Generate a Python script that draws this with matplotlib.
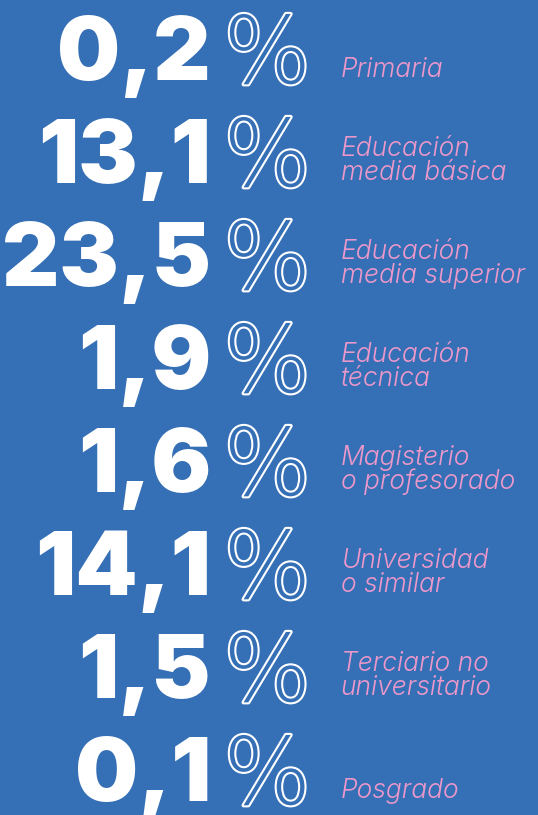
import matplotlib
matplotlib.use("Agg")
import matplotlib.pyplot as plt
import matplotlib.patheffects as pe

# Data
values = [0.2, 13.1, 23.5, 1.9, 1.6, 14.1, 1.5, 0.1]
labels = [
    ["Primaria"],
    ["Educación", "media básica"],
    ["Educación", "media superior"],
    ["Educación", "técnica"],
    ["Magisterio", "o profesorado"],
    ["Universidad", "o similar"],
    ["Terciario no", "universitario"],
    ["Posgrado"],
]

BG = "#356FB5"
PINK = "#EC98CA"
W, H = 538, 815

fig = plt.figure(figsize=(W / 100, H / 100), dpi=100)
fig.patch.set_facecolor(BG)
ax = fig.add_axes([0, 0, 1, 1])
ax.set_xlim(0, W)
ax.set_ylim(H, 0)
ax.axis("off")
ax.set_facecolor(BG)

first_base = 80
step = 103.0
num_right = 211
pct_left = 223
label_x = 341
line_gap = 24

for i, (v, lab) in enumerate(zip(values, labels)):
    base = first_base + i * step
    txt = f"{v:.1f}".replace(".", ",")
    ax.text(num_right, base, txt, ha="right", va="baseline",
            fontsize=64, fontfamily="Inter", fontweight=900, color="white")
    ax.text(pct_left, base + 3, "%", ha="left", va="baseline",
            fontsize=67, fontfamily="DejaVu Sans", fontweight=200, color=BG,
            path_effects=[pe.Stroke(linewidth=3.0, foreground="white"), pe.Normal()])
    lbase = base - 3
    n = len(lab)
    for j, line in enumerate(lab):
        y = lbase - (n - 1 - j) * line_gap
        ax.text(label_x, y, line, ha="left", va="baseline",
                fontsize=19, fontfamily="Inter", fontweight=300, fontstyle="italic",
                color=PINK)

fig.savefig("out.png", dpi=100, facecolor=BG)
